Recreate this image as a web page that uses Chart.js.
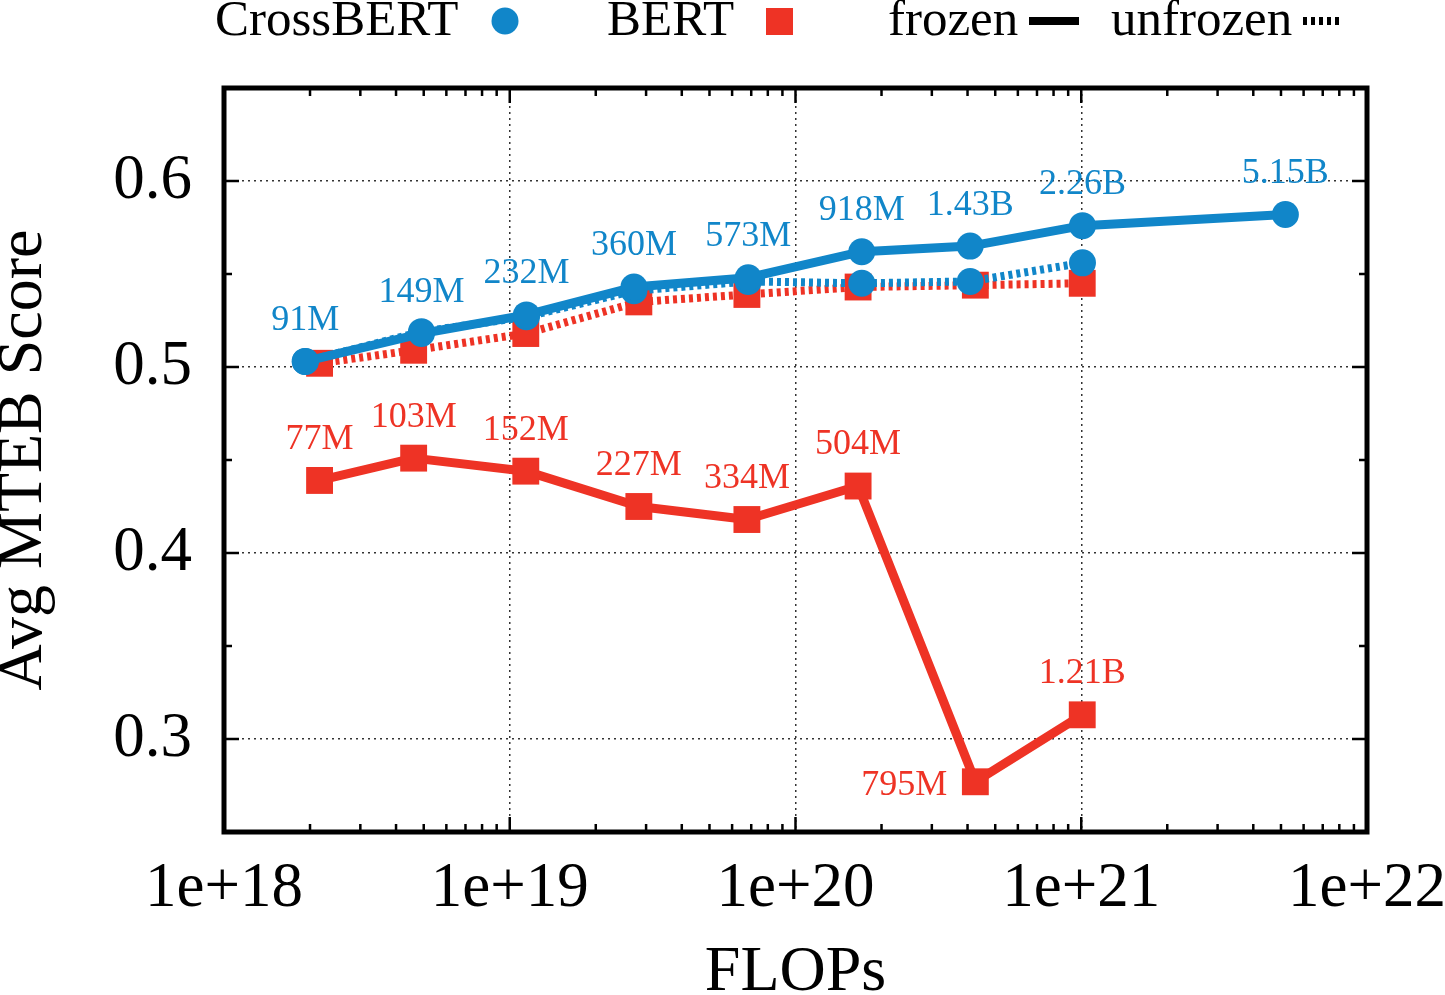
<!DOCTYPE html>
<html>
<head>
<meta charset="utf-8">
<script src="https://cdn.jsdelivr.net/npm/chart.js@4.4.1/dist/chart.umd.min.js"></script>
<style>
  html, body { margin: 0; padding: 0; background: #fff; }
  #wrap { width: 1445px; height: 995px; position: relative; }
</style>
</head>
<body>
<div id="wrap"><canvas id="flopsChart"></canvas></div>
<script>
/* ========================================
   DATA
======================================== */
const crossFlops    = [1.925e18, 4.91e18, 1.144e19, 2.72e19, 6.83e19, 1.706e20, 4.085e20, 1.01e21, 5.18e21];
const crossFrozen   = [0.503, 0.518, 0.528, 0.543, 0.548, 0.562, 0.565, 0.576, 0.582];
const crossUnfrozen = [0.503, 0.519, 0.527, 0.541, 0.546, 0.545, 0.546, 0.556];
const crossSizes    = ["91M", "149M", "232M", "360M", "573M", "918M", "1.43B", "2.26B", "5.15B"];

const bertFlops     = [2.16e18, 4.61e18, 1.138e19, 2.83e19, 6.76e19, 1.656e20, 4.26e20, 1.008e21];
const bertFrozen    = [0.439, 0.451, 0.444, 0.425, 0.418, 0.436, 0.277, 0.313];
const bertUnfrozen  = [0.502, 0.509, 0.518, 0.535, 0.539, 0.543, 0.544, 0.545];
const bertSizes     = ["77M", "103M", "152M", "227M", "334M", "504M", "795M", "1.21B"];

const xTickExps  = [18, 19, 20, 21, 22];
const yTickVals  = [0.3, 0.4, 0.5, 0.6];

const BLUE = "#1186c9";
const RED  = "#ee3325";
const SERIF = "'Liberation Serif', 'DejaVu Serif', serif";

function pts(xs, ys) {
  return ys.map((y, i) => ({ x: xs[i], y }));
}

/* ========================================
   PLUGINS
======================================== */
// border box + inward ticks (gnuplot style, mirrored)
const frameTicks = {
  id: "frameTicks",
  afterDatasetsDraw(chart) {
    const { ctx, chartArea: a, scales } = chart;
    const xs = scales.x, ys = scales.y;
    ctx.save();
    ctx.strokeStyle = "#000";
    ctx.lineWidth = 2.5;
    ctx.beginPath();
    // x ticks (major + log minor)
    for (let e = 18; e < 22; e++) {
      for (let k = 1; k <= 10; k++) {
        const v = k * Math.pow(10, e);
        const px = xs.getPixelForValue(v);
        const len = (k === 1 || k === 10) ? 15 : 8;
        ctx.moveTo(px, a.bottom); ctx.lineTo(px, a.bottom - len);
        ctx.moveTo(px, a.top);    ctx.lineTo(px, a.top + len);
      }
    }
    // y ticks every 0.05, major every 0.1
    for (let i = 5; i <= 13; i++) {
      const v = i * 0.05;
      const py = ys.getPixelForValue(v);
      const len = (i % 2 === 0) ? 15 : 8;
      ctx.moveTo(a.left, py);  ctx.lineTo(a.left + len, py);
      ctx.moveTo(a.right, py); ctx.lineTo(a.right - len, py);
    }
    ctx.stroke();
    ctx.lineWidth = 5;
    ctx.strokeRect(a.left, a.top, a.right - a.left, a.bottom - a.top);
    ctx.restore();
  }
};

// size labels next to the frozen points
const sizeLabels = {
  id: "sizeLabels",
  afterDatasetsDraw(chart) {
    const { ctx } = chart;
    ctx.save();
    ctx.font = "36px " + SERIF;
    ctx.textBaseline = "middle";
    const sets = [
      { idx: 0, labels: crossSizes, color: BLUE },
      { idx: 2, labels: bertSizes, color: RED }
    ];
    sets.forEach(s => {
      const meta = chart.getDatasetMeta(s.idx);
      ctx.fillStyle = s.color;
      meta.data.forEach((p, i) => {
        const txt = s.labels[i];
        if (txt === "795M") {
          ctx.textAlign = "right";
          ctx.fillText(txt, p.x - 28, p.y + 4);
        } else {
          ctx.textAlign = "center";
          ctx.fillText(txt, p.x, p.y - 41);
        }
      });
    });
    ctx.restore();
  }
};

// legend row on top: text followed by its symbol
const topLegend = {
  id: "topLegend",
  afterDraw(chart) {
    const { ctx } = chart;
    ctx.save();
    ctx.font = "51px " + SERIF;
    ctx.fillStyle = "#000";
    ctx.textBaseline = "alphabetic";
    ctx.textAlign = "left";
    ctx.fillText("CrossBERT", 215, 35);
    ctx.fillText("BERT", 607, 35);
    ctx.fillText("frozen", 888, 35);
    ctx.fillText("unfrozen", 1111, 35);

    ctx.fillStyle = BLUE;
    ctx.beginPath();
    ctx.arc(505, 21, 13.5, 0, Math.PI * 2);
    ctx.fill();

    ctx.fillStyle = RED;
    ctx.fillRect(766, 8, 27, 27);

    ctx.strokeStyle = "#000";
    ctx.lineWidth = 8;
    ctx.beginPath();
    ctx.moveTo(1029, 21); ctx.lineTo(1079, 21);
    ctx.stroke();

    ctx.setLineDash([4, 4]);
    ctx.beginPath();
    ctx.moveTo(1303, 21); ctx.lineTo(1343, 21);
    ctx.stroke();
    ctx.restore();
  }
};

/* ========================================
   CHART
======================================== */
const ctx = document.getElementById("flopsChart").getContext("2d");

new Chart(ctx, {
  type: "line",
  data: {
    datasets: [
      {
        label: "CrossBERT frozen",
        data: pts(crossFlops, crossFrozen),
        borderColor: BLUE, backgroundColor: BLUE,
        borderWidth: 9, pointRadius: 13.5, pointStyle: "circle",
        pointBorderWidth: 0, order: 1
      },
      {
        label: "CrossBERT unfrozen",
        data: pts(crossFlops, crossUnfrozen),
        borderColor: BLUE, backgroundColor: BLUE,
        borderWidth: 8, borderDash: [4, 4], pointRadius: 13.5, pointStyle: "circle",
        pointBorderWidth: 0, order: 2
      },
      {
        label: "BERT frozen",
        data: pts(bertFlops, bertFrozen),
        borderColor: RED, backgroundColor: RED,
        borderWidth: 9, pointRadius: 19, pointStyle: "rect",
        pointBorderWidth: 0, order: 3
      },
      {
        label: "BERT unfrozen",
        data: pts(bertFlops, bertUnfrozen),
        borderColor: RED, backgroundColor: RED,
        borderWidth: 8, borderDash: [4, 4], pointRadius: 19, pointStyle: "rect",
        pointBorderWidth: 0, order: 4
      }
    ]
  },
  options: {
    responsive: true,
    maintainAspectRatio: false,
    animation: false,
    layout: { padding: { top: 88, right: 78, bottom: 0, left: 0 } },
    plugins: {
      legend: { display: false },
      tooltip: { enabled: false }
    },
    elements: { line: { tension: 0, borderCapStyle: "butt", borderJoinStyle: "round" } },
    scales: {
      x: {
        type: "logarithmic",
        min: 1e18,
        max: 1e22,
        afterBuildTicks: s => { s.ticks = xTickExps.map(e => ({ value: Math.pow(10, e) })); },
        afterFit: s => { s.height = 163; s.paddingLeft = 0; s.paddingRight = 0; },
        ticks: {
          autoSkip: false, maxRotation: 0, padding: 20,
          color: "#000", font: { family: SERIF, size: 63 },
          callback: v => "1e+" + Math.round(Math.log10(v))
        },
        grid: { color: "#333", lineWidth: 1.5, drawTicks: false },
        border: { display: false, dash: [2, 4] },
        title: {
          display: true, text: "FLOPs", color: "#000",
          font: { family: SERIF, size: 64, lineHeight: 1 }, padding: { top: 0, bottom: -10 }
        }
      },
      y: {
        type: "linear",
        min: 0.25,
        max: 0.65,
        afterBuildTicks: s => { s.ticks = yTickVals.map(v => ({ value: v })); },
        afterFit: s => { s.width = 224; s.paddingTop = 0; s.paddingBottom = 0; },
        ticks: {
          padding: 32, color: "#000", font: { family: SERIF, size: 63 },
          callback: v => Number(v).toFixed(1)
        },
        grid: { color: "#333", lineWidth: 1.5, drawTicks: false },
        border: { display: false, dash: [2, 4] },
        title: {
          display: true, text: "Avg MTEB Score", color: "#000",
          font: { family: SERIF, size: 64, lineHeight: 0.75 }, padding: { top: 0, bottom: 0 }
        }
      }
    }
  },
  plugins: [frameTicks, sizeLabels, topLegend]
});
</script>
</body>
</html>
